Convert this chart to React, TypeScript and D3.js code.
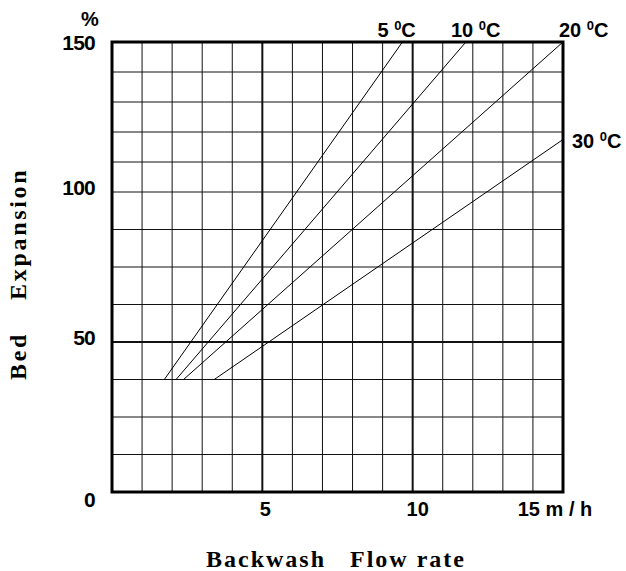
import React, { useRef, useEffect } from 'react';
import * as d3 from 'd3';

// flow rate (m/h) grid and axis
const xTicks = [5, 10, 15];
const xTickLabels = ['5', '10', '15 m / h'];
const xGrid = d3.range(0, 16);
const xHeavy = [5, 10];

// bed expansion (%) grid and axis
const yTicks = [0, 50, 100, 150];
const yGrid = [0, 12.5, 25, 37.5, 50, 62.5, 75, 87.5, 100, 110, 120, 130, 140, 150];
const yHeavy = [50];

// temperature lines: [flow rate, expansion] end points
const seriesNames = ['5', '10', '20', '30'];
const line5 = [[1.74, 37.5], [9.66, 150]];
const line10 = [[2.13, 37.5], [11.77, 150]];
const line20 = [[2.38, 37.5], [15, 150]];
const line30 = [[3.4, 37.5], [15, 117.5]];
const seriesData = [line5, line10, line20, line30];

const width = 626;
const height = 571;
const margins = { left: 112, right: 63, top: 42, bottom: 79 };
const sansFont = '"Liberation Sans", Arial, sans-serif';
const serifFont = '"Liberation Serif", "Times New Roman", serif';

export default function App() {
  const ref = useRef<SVGSVGElement>(null);

  useEffect(() => {
    if (!ref.current) return;
    const svg = d3.select(ref.current);
    svg.selectAll('*').remove();

    const graphWidth = width - margins.left - margins.right;
    const graphHeight = height - margins.top - margins.bottom;

    const x = d3.scaleLinear().domain([0, 15]).range([margins.left, margins.left + graphWidth]);
    const y = d3.scaleLinear().domain([0, 150]).range([margins.top + graphHeight, margins.top]);

    const g = svg.append('g');

    // vertical grid
    g.selectAll('.vgrid')
      .data(xGrid)
      .join('line')
      .attr('x1', (d: number) => x(d))
      .attr('x2', (d: number) => x(d))
      .attr('y1', y(0))
      .attr('y2', y(150))
      .attr('stroke', '#111')
      .attr('stroke-width', (d: number) => (xHeavy.includes(d) ? 2 : 1));

    // horizontal grid
    g.selectAll('.hgrid')
      .data(yGrid)
      .join('line')
      .attr('x1', x(0))
      .attr('x2', x(15))
      .attr('y1', (d: number) => y(d))
      .attr('y2', (d: number) => y(d))
      .attr('stroke', '#111')
      .attr('stroke-width', (d: number) => (yHeavy.includes(d) ? 2 : 1));

    // frame
    g.append('rect')
      .attr('x', x(0))
      .attr('y', y(150))
      .attr('width', x(15) - x(0))
      .attr('height', y(0) - y(150))
      .attr('fill', 'none')
      .attr('stroke', '#000')
      .attr('stroke-width', 3);

    // temperature lines
    const lineGen = d3
      .line()
      .x((d: number[]) => x(d[0]))
      .y((d: number[]) => y(d[1]));
    g.selectAll('.series')
      .data(seriesData)
      .join('path')
      .attr('d', (d: any) => lineGen(d))
      .attr('fill', 'none')
      .attr('stroke', '#000')
      .attr('stroke-width', 1);

    // temperature labels
    const labelPos = [
      { dx: -25, dy: -5 },
      { dx: -15, dy: -5 },
      { dx: -4, dy: -5 },
      { dx: 9, dy: 8 },
    ];
    seriesNames.forEach((name, i) => {
      const end = seriesData[i][1];
      const t = g
        .append('text')
        .attr('x', x(end[0]) + labelPos[i].dx)
        .attr('y', y(end[1]) + labelPos[i].dy)
        .attr('font-family', sansFont)
        .attr('font-weight', 'bold')
        .attr('font-size', 20)
        .attr('fill', '#000');
      t.append('tspan').text(name + ' ');
      t.append('tspan').attr('font-size', 13).attr('dy', -7).text('0');
      t.append('tspan').attr('dy', 7).text('C');
    });

    // y tick labels
    g.selectAll('.ylab')
      .data(yTicks)
      .join('text')
      .attr('x', 95)
      .attr('y', (d: number) => y(d) + (d === 0 ? 15 : d === 150 ? 8 : 3))
      .attr('text-anchor', 'end')
      .attr('font-family', sansFont)
      .attr('font-weight', 'bold')
      .attr('font-size', 21)
      .attr('letter-spacing', -0.8)
      .text((d: number) => String(d));

    g.append('text')
      .attr('x', 90)
      .attr('y', 26)
      .attr('text-anchor', 'middle')
      .attr('font-family', sansFont)
      .attr('font-weight', 'bold')
      .attr('font-size', 20)
      .text('%');

    // x tick labels
    g.selectAll('.xlab')
      .data(xTicks)
      .join('text')
      .attr('x', (d: number) => x(d))
      .attr('y', y(0) + 24)
      .attr('text-anchor', 'middle')
      .attr('dx', (d: number) => (d === 15 ? -8 : d === 10 ? 5 : 3))
      .attr('font-family', sansFont)
      .attr('font-weight', 'bold')
      .attr('font-size', 20)
      .text((d: number, i: number) => xTickLabels[i]);

    // axis titles
    const titleStyle = (sel: any) =>
      sel
        .attr('font-family', serifFont)
        .attr('font-weight', 'bold')
        .attr('font-size', 24)
        .attr('letter-spacing', 2);

    g.append('text').attr('x', 206).attr('y', 567).call(titleStyle).text('Backwash');
    g.append('text').attr('x', 350).attr('y', 567).call(titleStyle).text('Flow rate');

    g.append('text')
      .attr('transform', 'translate(26,380) rotate(-90)')
      .call(titleStyle)
      .attr('letter-spacing', 2.7)
      .text('Bed');
    g.append('text')
      .attr('transform', 'translate(26,300) rotate(-90)')
      .call(titleStyle)
      .attr('letter-spacing', 2.7)
      .text('Expansion');
  }, []);

  return (
    <svg
      ref={ref}
      width={width}
      height={height}
      style={{ position: 'absolute', left: 0, top: 0, background: '#fff' }}
    />
  );
}
